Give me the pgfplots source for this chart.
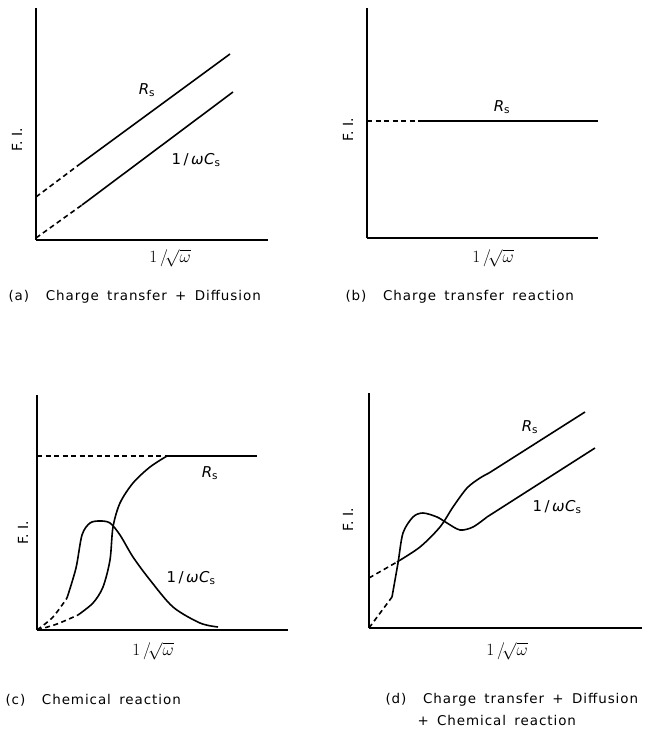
\documentclass[border=0pt]{standalone}
\usepackage{pgfplots}
\pgfplotsset{compat=1.18}
\usepackage{fontspec}
\setmainfont{DejaVu Sans}
\newfontfamily\capfont[LetterSpace=7,WordSpace=1.6]{DejaVu Sans}
\newcommand{\Rs}{{\itshape R}\textsubscript{s}}
\newcommand{\wC}{1\,/\,{\itshape ω\kern0.5pt C}\textsubscript{s}}
\newcommand{\xl}{$1\,/\!\sqrt{\omega}$}
\pgfplotsset{
  panel/.style={x=1bp,y=1bp,anchor=south west,xmin=0,ymin=0,enlargelimits=false,
    axis lines=left, axis line style={-,line width=2bp}, xtick=\empty, ytick=\empty,
    clip=false},
}
\tikzset{
  ln/.style={black,no markers,solid,line width=1.6bp},
  dsh/.style={black,no markers,line width=1.6bp,dash pattern=on 5bp off 3.5bp},
  lab/.style={font=\fontsize{15}{17}\selectfont},
  xlab/.style={font=\fontsize{16}{18}\selectfont},
  fil/.style={font=\fontsize{14}{16}\selectfont,rotate=90},
  captxt/.style={font=\capfont\fontsize{13.5}{16}\selectfont,anchor=west},
}
\begin{document}
\begin{tikzpicture}
\useasboundingbox (0,0) rectangle (645bp,736bp);
% (a)
\begin{axis}[panel, at={(36bp,496bp)}, xmax=232, ymax=232]
\addplot[dsh] coordinates {(0,43) (44,76)};
\addplot[ln] coordinates {(44,76) (194,186)};
\addplot[dsh] coordinates {(0,2) (46,35)};
\addplot[ln] coordinates {(46,35) (197,148)};
\node[lab] at (axis cs:111,150) {\Rs};
\node[lab] at (axis cs:160,80) {\wC};
\node[xlab] at (axis cs:134,-18) {\xl};
\node[fil] at (axis cs:-19,100) {F.\,\,I.};
\node[captxt] at (axis cs:-31,-57) {(a)\ \ Charge transfer + Diffusion};
\end{axis}
% (b)
\begin{axis}[panel, at={(367bp,498bp)}, xmax=231, ymax=230]
\addplot[dsh] coordinates {(0,117) (51,117)};
\addplot[ln] coordinates {(51,117) (231,117)};
\node[lab] at (axis cs:135,131) {\Rs};
\node[xlab] at (axis cs:126,-20) {\xl};
\node[fil] at (axis cs:-19,108) {F.\,\,I.};
\node[captxt] at (axis cs:-25,-59) {(b)\ \ Charge transfer reaction};
\end{axis}
% (c)
\begin{axis}[panel, at={(37bp,106bp)}, xmax=251, ymax=235]
\addplot[dsh] coordinates {(0,174) (130,174)};
\addplot[ln] coordinates {(130,174) (220,174)};
\addplot[dsh,smooth] coordinates {(0,0) (20,6) (41,15)};
\addplot[ln,smooth] coordinates {(41,15) (56,27) (66,43) (73,70) (76,103) (83,127) (96,147) (113,163) (130,174)};
\addplot[dsh,smooth] coordinates {(0,0) (16,13) (30,32)};
\addplot[ln,smooth] coordinates {(30,32) (39,62) (45,95) (53,107) (63,109) (73,107) (83,95) (96,73) (113,50) (136,23) (163,7) (181,3)};
\node[lab] at (axis cs:173,157) {\Rs};
\node[lab] at (axis cs:154,52) {\wC};
\node[xlab] at (axis cs:116,-21) {\xl};
\node[fil] at (axis cs:-14,97) {F.\,\,I.};
\node[captxt] at (axis cs:-35,-70) {(c)\ \ Chemical reaction};
\end{axis}
% (d)
\begin{axis}[panel, at={(369bp,108bp)}, xmax=273, ymax=235]
\addplot[dsh] coordinates {(0,50) (28,66)};
\addplot[ln,smooth] coordinates {(28,66) (51,81) (71,101) (84,121) (98,140) (111,150) (120,155)};
\addplot[ln] coordinates {(120,155) (216,216)};
\addplot[dsh] coordinates {(0,0) (23,31)};
\addplot[ln,smooth] coordinates {(23,31) (29,65) (34,95) (44,111) (54,115) (68,111) (78,105) (91,98) (104,101) (118,111)};
\addplot[ln] coordinates {(118,111) (226,180)};
\node[lab] at (axis cs:161,201) {\Rs};
\node[lab] at (axis cs:188,121) {\wC};
\node[xlab] at (axis cs:138,-23) {\xl};
\node[fil] at (axis cs:-21,108) {F.\,\,I.};
\node[captxt] at (axis cs:13,-72) {(d)\ \ Charge transfer + Diffusion};
\node[captxt] at (axis cs:45,-92) {+ Chemical reaction};
\end{axis}
\end{tikzpicture}
\end{document}
